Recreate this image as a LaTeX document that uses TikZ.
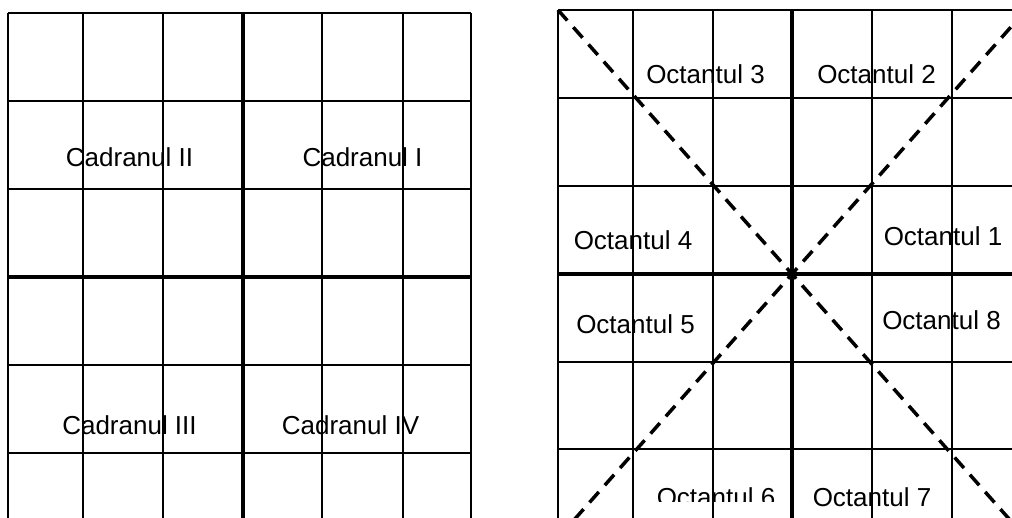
\documentclass[tikz,border=0pt]{standalone}
\usepackage{fontspec}
\setmainfont{Liberation Sans}
\begin{document}
\begin{tikzpicture}[x=1pt,y=-1pt,
  thin grid/.style={line width=1.5pt,black},
  thick grid/.style={line width=3.2pt,black},
  diag/.style={line width=3.5pt,black,dash pattern=on 14pt off 9pt},
  lbl/.style={anchor=base,inner sep=0pt,font=\fontsize{26}{30}\selectfont}]
\useasboundingbox (0,0) rectangle (1012,517);
\clip (0,0) rectangle (1012,517);
% ---- left grid (quadrants)
\foreach \x in {8,83,163,322,403,471} \draw[thin grid] (\x,13) -- (\x,530);
\foreach \y in {13,101,189,365,453} \draw[thin grid] (8,\y) -- (471,\y);
\draw[thick grid] (243,13) -- (243,530);
\draw[thick grid] (8,277) -- (471,277);
\node[lbl] (q2) at (129.5,166) {Cadranul II};
\node[lbl] (q1) at (362.5,166) {Cadranul I};
\node[lbl] (q3) at (129.5,434) {Cadranul III};
\node[lbl] (q4) at (350.5,434) {Cadranul IV};
% ---- right grid (octants)
\foreach \x in {558,633,713,872,952} \draw[thin grid] (\x,10) -- (\x,530);
\foreach \y in {10,98,186,362,449} \draw[thin grid] (558,\y) -- (1020,\y);
\draw[thick grid] (792,10) -- (792,530);
\draw[thick grid] (558,274) -- (1020,274);
\coordinate (tl) at (558,10);
\coordinate (br) at (1026,538);
\coordinate (tr) at (1026,10);
\coordinate (bl) at (558,538);
\draw[diag] (tl) -- (br);
\draw[diag] (tr) -- (bl);
\node[lbl] (o3) at (705.5,83) {Octantul 3};
\node[lbl] (o2) at (876.5,83) {Octantul 2};
\node[lbl] (o4) at (633,249) {Octantul 4};
\node[lbl] (o1) at (943,245) {Octantul 1};
\node[lbl] (o5) at (635.5,333) {Octantul 5};
\node[lbl] (o8) at (941.5,329) {Octantul 8};
\node[lbl] (o7) at (872,506) {Octantul 7};
\begin{scope}
\clip (640,480) rectangle (790,501);
\node[lbl] (o6) at (716,506) {Octantul 6};
\end{scope}
\end{tikzpicture}
\end{document}
